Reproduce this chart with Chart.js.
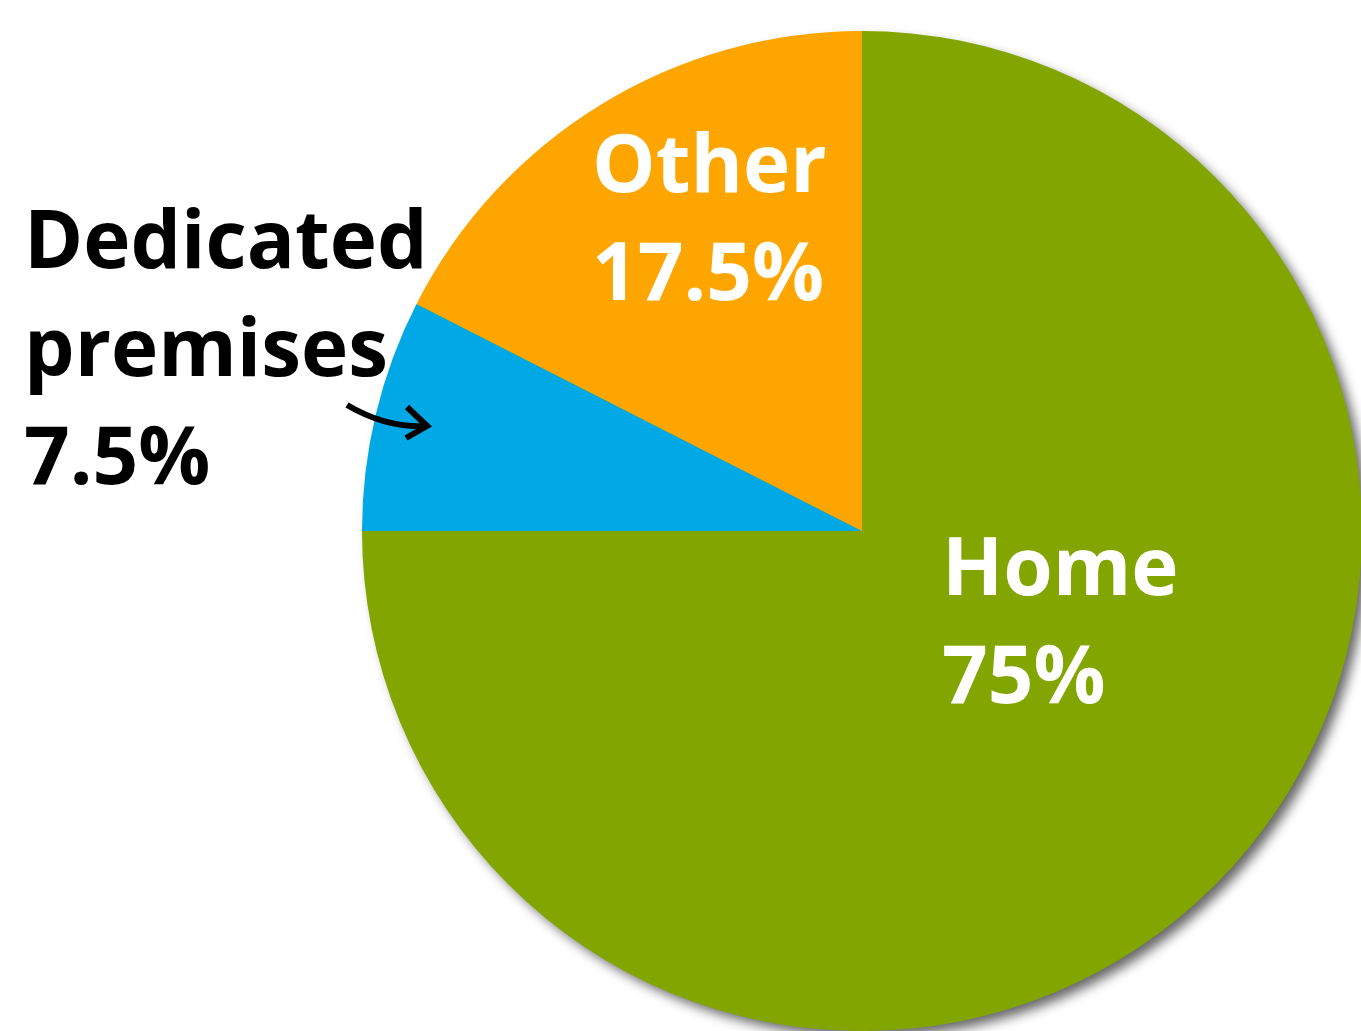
<!DOCTYPE html>
<html>
<head>
<meta charset="utf-8">
<script src="https://cdn.jsdelivr.net/npm/chart.js@4"></script>
<style>
html,body{margin:0;padding:0;background:#fff;overflow:hidden;}
#wrap{position:absolute;left:0;top:0;width:1362px;height:1031px;}
</style>
</head>
<body>
<div id="wrap"><canvas id="c" width="1362" height="1031"></canvas></div>
<script>
const categories = ["Home", "Dedicated premises", "Other"];
const values = [75, 7.5, 17.5];
const colors = ["#82A500", "#00A8E6", "#FFA500"];
const labelLines = [["Home", "75%"], ["Dedicated", "premises", "7.5%"], ["Other", "17.5%"]];
const labelColors = ["#ffffff", "#000000", "#ffffff"];
// label anchor offsets relative to pie centre, in units of radius (x, first baseline)
const labelAnchors = [[0.160, 0.128], [-1.676, -0.526], [-0.540, -0.678]];
const lineStep = 0.216;

const shadowPlugin = {
  id: 'shadow',
  beforeDatasetsDraw(chart) {
    const arc = chart.getDatasetMeta(0).data[0];
    if (!arc) return;
    const ctx = chart.ctx;
    ctx.save();
    ctx.shadowColor = 'rgba(0,0,0,0.6)';
    ctx.shadowBlur = 12;
    ctx.shadowOffsetX = 7;
    ctx.shadowOffsetY = 7;
    ctx.fillStyle = '#82A500';
    ctx.beginPath();
    ctx.arc(arc.x, arc.y, arc.outerRadius - 1, 0, Math.PI * 2);
    ctx.fill();
    ctx.restore();
  }
};

const labelPlugin = {
  id: 'labels',
  afterDatasetsDraw(chart) {
    const meta = chart.getDatasetMeta(0);
    const ctx = chart.ctx;
    const a0 = meta.data[0];
    const cx = a0.x, cy = a0.y, r = a0.outerRadius;
    ctx.save();
    ctx.font = 'bold 80px "Open Sans"';
    ctx.textAlign = 'left';
    ctx.textBaseline = 'alphabetic';
    labelLines.forEach((lines, i) => {
      ctx.fillStyle = labelColors[i];
      const x = cx + labelAnchors[i][0] * r;
      lines.forEach((t, j) => {
        const y = cy + (labelAnchors[i][1] + j * lineStep) * r;
        ctx.fillText(t, x, y);
      });
    });
    // arrow for Dedicated premises
    ctx.strokeStyle = '#000';
    ctx.lineWidth = 6;
    ctx.lineCap = 'butt';
    ctx.lineJoin = 'miter';
    const sx = cx - 1.03 * r, sy = cy - 0.252 * r;
    const ex = cx - 0.87 * r, ey = cy - 0.21 * r;
    ctx.beginPath();
    ctx.moveTo(sx, sy);
    ctx.quadraticCurveTo(cx - 0.95 * r, cy - 0.205 * r, ex, ey);
    ctx.stroke();
    ctx.beginPath();
    ctx.moveTo(ex - 0.04 * r, ey - 0.038 * r);
    ctx.lineTo(ex, ey);
    ctx.lineTo(ex - 0.042 * r, ey + 0.024 * r);
    ctx.stroke();
    ctx.restore();
  }
};

new Chart(document.getElementById('c'), {
  type: 'pie',
  data: {
    labels: categories,
    datasets: [{
      data: values,
      backgroundColor: colors,
      borderWidth: 0
    }]
  },
  options: {
    responsive: false,
    animation: false,
    layout: { padding: { left: 362, top: 31, right: 0, bottom: 0 } },
    plugins: { legend: { display: false }, tooltip: { enabled: false } }
  },
  plugins: [shadowPlugin, labelPlugin]
});
</script>
</body>
</html>
